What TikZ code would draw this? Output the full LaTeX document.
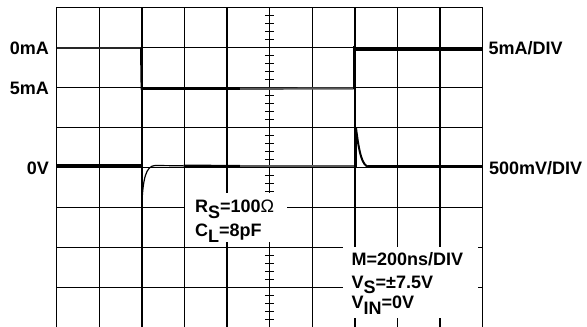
\documentclass[tikz,border=0pt]{standalone}
\usepackage{fontspec}
\setmainfont{Liberation Sans}[BoldFont={Liberation Sans Bold}]
\newcommand\subx[1]{\raisebox{-5.5pt}{#1}}
\begin{document}
\begin{tikzpicture}[x=1pt,y=-1pt,
  gridline/.style={line width=1.3pt,black},
  tickline/.style={line width=1.1pt,black},
  lbl/.style={inner sep=0pt,font=\fontsize{18}{22}\selectfont\bfseries},
  tracethick/.style={line width=3.2pt,black},
  tracegray/.style={line width=2.2pt,black!65},
  maskbox/.style={fill=white,draw=none}]
\useasboundingbox[fill=white] (0,0) rectangle (587,327);
% grid
\foreach \i in {0,...,10} {
  \draw[gridline] ({56.7+42.6*\i},7.3) -- ({56.7+42.6*\i},328);
}
\foreach \j in {0,...,7} {
  \draw[gridline] (56.7,{7.3+40*\j}) -- (482.7,{7.3+40*\j});
}
% centre ticks
\foreach \k in {1,...,39} {
  \draw[tickline] (265.1,{7.3+8*\k}) -- (273.5,{7.3+8*\k});
}
% masks for text areas
\path[maskbox] (185,192.6) rectangle (287.3,242.3);
\path[maskbox] (343.3,246.5) rectangle (478.3,318.3);
% current trace
\draw[line width=2.2pt,black!85] (56.7,47.7) -- (141,47.7);
\draw[line width=2pt,black] (141,47.7) -- (141.6,89.5);
\draw[tracethick] (141.6,88.8) -- (240,88.8);
\draw[tracegray] (240,88.8) -- (353.5,88.4);
\draw[line width=2pt,black] (354.2,89) -- (354.2,45.5);
\draw[line width=3.8pt,black] (355.5,49) -- (482.7,49);
% voltage trace
\draw[line width=2.6pt,black] (56.7,165.4) -- (141.6,165.4);
\draw[line width=2pt,black] (141.6,164.5) -- (141.6,205.5);
\draw[line width=1.2pt,black] (141.8,205) .. controls (143,178) and (146,166) .. (155,165.5) -- (183.7,165.8);
\draw[line width=2.8pt,black] (183.7,166) -- (240,166.3);
\draw[tracegray] (240,166.3) -- (355,166.3);
\draw[line width=2.6pt,black] (355.7,167) -- (355.7,127.3);
\draw[line width=2pt,black] (356,128) .. controls (359,152) and (362,166.5) .. (369,166.7);
\draw[line width=3pt,black] (368,166.7) -- (482.7,166.7);
% labels
\node[lbl,anchor=base east] (l0mA) at (49,54.3) {0mA};
\node[lbl,anchor=base east] (l5mA) at (49,94.3) {5mA};
\node[lbl,anchor=base east] (l0V) at (49,174) {0V};
\node[lbl,anchor=base west] (lcurdiv) at (488.5,54) {5mA/DIV};
\node[lbl,anchor=base west] (lvoltdiv) at (489,174) {500mV/DIV};
\node[lbl,anchor=base west] (lrs) at (195,212.7) {R\subx{S}=100{\mdseries Ω}};
\node[lbl,anchor=base west] (lcl) at (195,236.7) {C\subx{L}=8pF};
\node[lbl,anchor=base west] (lm) at (351.5,265) {M=200ns/DIV};
\node[lbl,anchor=base west] (lvs) at (351.5,288.3) {V\subx{S}=±7.5V};
\node[lbl,anchor=base west] (lvin) at (351.5,308.5) {V\subx{IN}=0V};
\end{tikzpicture}
\end{document}
